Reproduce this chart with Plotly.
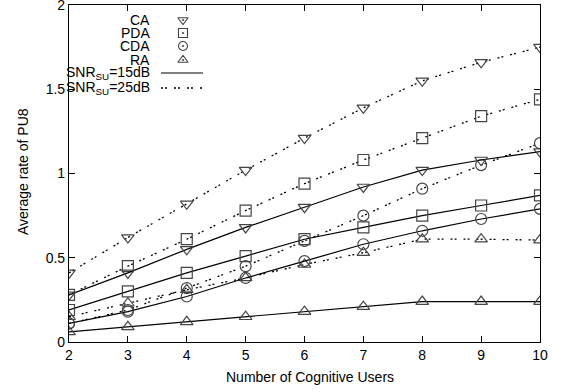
import plotly.graph_objects as go

users = [2, 3, 4, 5, 6, 7, 8, 9, 10]

ca_25 = [0.41, 0.62, 0.82, 1.02, 1.21, 1.39, 1.55, 1.66, 1.75]
pda_25 = [0.28, 0.45, 0.61, 0.78, 0.94, 1.08, 1.21, 1.34, 1.44]
cda_25 = [0.11, 0.19, 0.32, 0.45, 0.60, 0.75, 0.91, 1.05, 1.18]
ra_25 = [0.15, 0.23, 0.31, 0.38, 0.46, 0.53, 0.61, 0.61, 0.605]

ca_15 = [0.28, 0.41, 0.55, 0.68, 0.80, 0.92, 1.02, 1.08, 1.13]
pda_15 = [0.19, 0.30, 0.41, 0.51, 0.61, 0.68, 0.75, 0.81, 0.87]
cda_15 = [0.11, 0.18, 0.27, 0.38, 0.48, 0.58, 0.66, 0.73, 0.79]
ra_15 = [0.06, 0.09, 0.12, 0.15, 0.18, 0.21, 0.24, 0.24, 0.24]

schemes = ["CA", "PDA", "CDA", "RA"]
symbols = ["triangle-down-open", "square-open", "circle-open", "triangle-up-open"]
legend_symbols = ["triangle-down-open-dot", "square-open-dot", "circle-open-dot", "triangle-up-open-dot"]
snr_labels = ["SNR<sub>SU</sub>=15dB", "SNR<sub>SU</sub>=25dB"]
y_ticks = [0, 0.5, 1, 1.5, 2]
y_tick_text = ["0", "0.5", "1", "1.5", "2"]

series_15 = [ca_15, pda_15, cda_15, ra_15]
series_25 = [ca_25, pda_25, cda_25, ra_25]

DOT = "2px,2px,2px,7px"
MC = "#444444"
FONT = "Liberation Sans, Arial, sans-serif"

fig = go.Figure()
for sym, ys in zip(symbols, series_25):
    fig.add_trace(go.Scatter(x=users, y=ys, mode="lines+markers",
                             line=dict(color="black", width=1.3, dash=DOT),
                             marker=dict(symbol=sym, size=11, color=MC, line=dict(width=1.2, color=MC)),
                             showlegend=False))
for sym, ys in zip(symbols, series_15):
    fig.add_trace(go.Scatter(x=users, y=ys, mode="lines+markers",
                             line=dict(color="black", width=1.2),
                             marker=dict(symbol=sym, size=11, color=MC, line=dict(width=1.2, color=MC)),
                             showlegend=False))

W, H = 563, 392
L, R, T, B = 69, 23, 5, 50
pw, ph = W - L - R, H - T - B

def px(x):
    return (x - L) / pw

def py(y):
    return 1 - (y - T) / ph

# gnuplot-style key (text right-aligned, sample to the right)
rows = [20, 33, 46, 60, 73, 88]
labels = schemes + snr_labels
for lab, yy in zip(labels, rows):
    fig.add_annotation(x=px(152), y=py(yy), xref="paper", yref="paper", text=lab,
                       showarrow=False, xanchor="right", yanchor="middle",
                       font=dict(size=14, color="black", family=FONT))

fig.add_trace(go.Scatter(x=[183] * 4, y=rows[:4], mode="markers", xaxis="x2", yaxis="y2",
                         marker=dict(symbol=legend_symbols, size=9, color=MC,
                                     line=dict(width=1.1, color=MC)),
                         showlegend=False, hoverinfo="skip"))
fig.add_trace(go.Scatter(x=[161, 203], y=[rows[4]] * 2, mode="lines", xaxis="x2", yaxis="y2",
                         line=dict(color="black", width=1.2), showlegend=False, hoverinfo="skip"))
fig.add_trace(go.Scatter(x=[161, 203], y=[rows[5]] * 2, mode="lines", xaxis="x2", yaxis="y2",
                         line=dict(color="black", width=1.3, dash=DOT), showlegend=False, hoverinfo="skip"))

# axis titles
fig.add_annotation(x=px(310), y=py(377), xref="paper", yref="paper", text="Number of Cognitive Users",
                   showarrow=False, xanchor="center", yanchor="middle",
                   font=dict(size=14, color="black", family=FONT))
fig.add_annotation(x=px(23), y=py(172), xref="paper", yref="paper", text="Average rate of PU8",
                   showarrow=False, xanchor="center", yanchor="middle", textangle=-90,
                   font=dict(size=14, color="black", family=FONT))

axis_common = dict(showgrid=False, zeroline=False, ticks="inside", ticklen=6,
                   tickcolor="black", linecolor="black", linewidth=1.2, showline=True,
                   mirror="ticks", automargin=False,
                   tickfont=dict(size=14, color="black", family=FONT))

fig.update_layout(
    width=W, height=H,
    margin=dict(l=L, r=R, t=T, b=B),
    paper_bgcolor="white", plot_bgcolor="white",
    font=dict(family=FONT, size=14, color="black"),
    xaxis=dict(range=[2, 10], tickvals=users, ticklabeloverflow="allow", **axis_common),
    yaxis=dict(range=[0, 2], tickvals=y_ticks, ticktext=y_tick_text, ticklabeloverflow="allow",
               **axis_common),
    xaxis2=dict(range=[L, W - R], overlaying="x", visible=False, fixedrange=True),
    yaxis2=dict(range=[H - B, T], overlaying="y", visible=False, fixedrange=True),
)

fig.write_html("out.html", config={"displayModeBar": False},
               post_script="document.body.style.margin='0';document.body.style.overflow='hidden';")
